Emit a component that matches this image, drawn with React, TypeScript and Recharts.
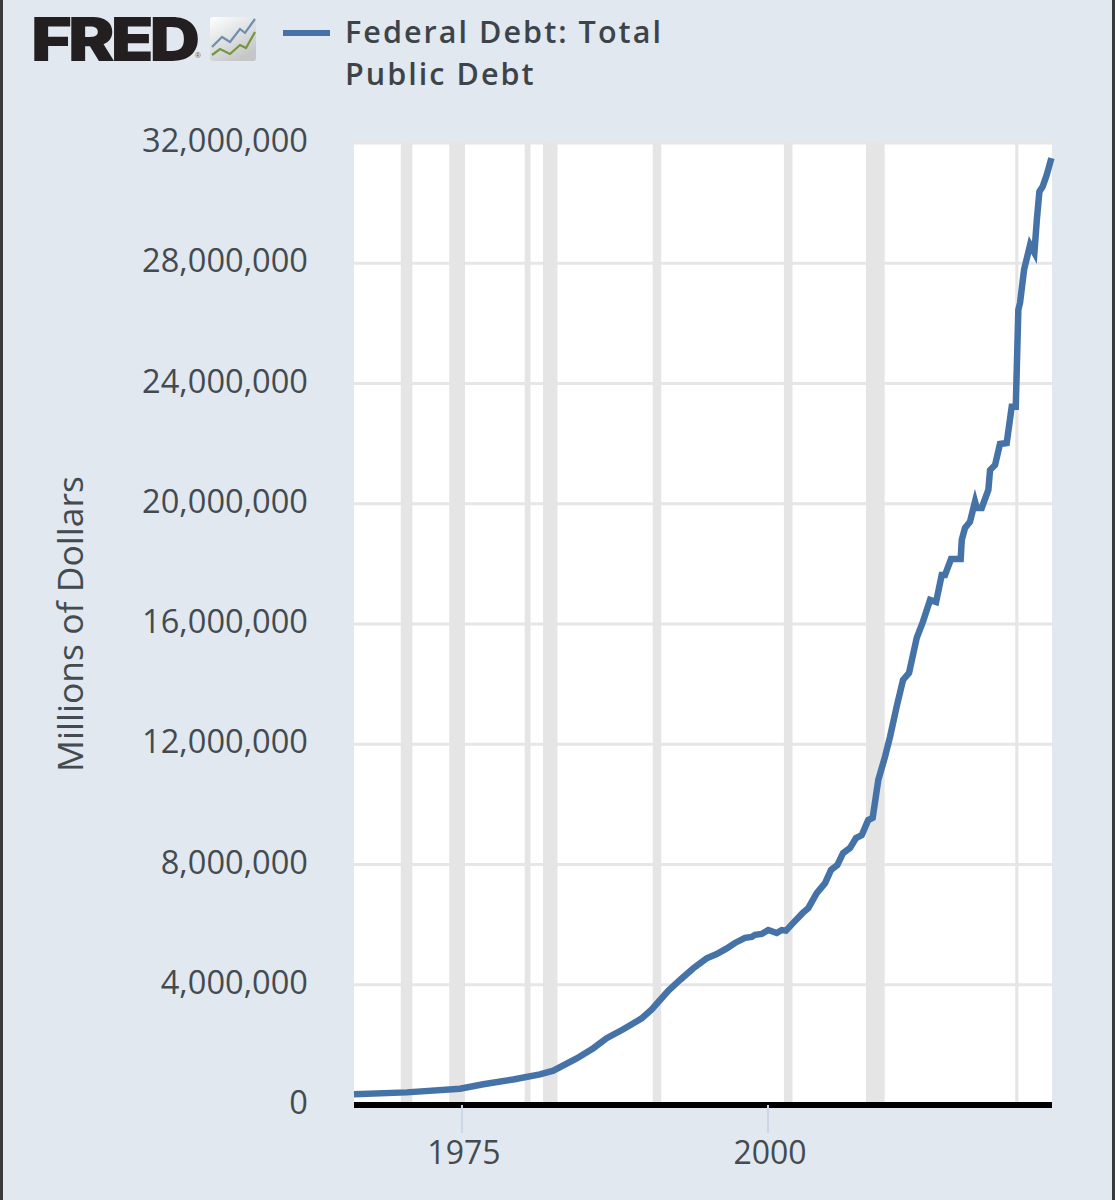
import React from "react";
import { LineChart, Line, XAxis, YAxis, CartesianGrid, ReferenceArea } from "recharts";

const seriesName = "Federal Debt: Total Public Debt";
const legendLines = ["Federal Debt: Total", "Public Debt"];
const yAxisTitle = "Millions of Dollars";
const yTicks = [0, 4000000, 8000000, 12000000, 16000000, 20000000, 24000000, 28000000, 32000000];
const xTicks = [1975, 2000];

const years = [
  1966.18, 1970.48, 1974.84, 1976.74, 1979.19, 1981.37, 1982.46, 1984.37, 1985.73, 1986.82,
  1988.18, 1989.68, 1990.5, 1991.85, 1992.81, 1993.9, 1994.99, 1995.81, 1996.63, 1997.3,
  1998.12, 1998.67, 1998.94, 1999.49, 2000.02, 2000.71, 2001.12, 2001.47, 2002.04, 2002.84,
  2003.29, 2003.98, 2004.66, 2005.15, 2005.66, 2006.13, 2006.7, 2007.19, 2007.66, 2008.19,
  2008.55, 2009.01, 2009.56, 2009.97, 2010.51, 2011.03, 2011.52, 2012.15, 2012.66, 2013.24,
  2013.73, 2014.19, 2014.46, 2014.95, 2015.74, 2015.83, 2016.09, 2016.5, 2016.91, 2017.05,
  2017.46, 2018.0, 2018.14, 2018.55, 2018.95, 2019.5, 2019.91, 2020.24, 2020.45, 2020.59,
  2020.92, 2021.41, 2021.76, 2021.96, 2022.17, 2022.44, 2022.77, 2023.15,
];
const debtMillions = [
  0.36, 0.42, 0.54, 0.69, 0.85, 1.02, 1.14, 1.55, 1.89, 2.22,
  2.52, 2.88, 3.18, 3.8, 4.16, 4.55, 4.88, 5.02, 5.21, 5.39,
  5.56, 5.59, 5.66, 5.69, 5.82, 5.72, 5.82, 5.8, 6.05, 6.39,
  6.55, 7.05, 7.38, 7.82, 7.98, 8.38, 8.55, 8.88, 8.98, 9.48,
  9.55, 10.81, 11.59, 12.25, 13.25, 14.14, 14.37, 15.54, 16.08, 16.8,
  16.73, 17.63, 17.63, 18.16, 18.16, 18.8, 19.19, 19.4, 20.07, 19.86,
  19.86, 20.46, 21.12, 21.29, 21.99, 22.02, 23.23, 23.23, 26.45, 26.69,
  27.79, 28.61, 28.35, 29.44, 30.38, 30.55, 30.94, 31.5,
];
const recessionStarts = [1970.0, 1973.96, 1980.12, 1981.62, 1990.58, 2001.3, 2008.0, 2020.2];
const recessionEnds = [1970.95, 1975.25, 1980.6, 1982.8, 1991.28, 2002.0, 2009.53, 2020.45];

const data = years.map((year, i) => ({ year, debt: debtMillions[i] * 1000000 }));
const fmt = (v: number) => v.toLocaleString("en-US");
const bg = "#e1e8ef";
const font = "'Open Sans', 'Noto Sans', sans-serif";
const textColor = "#444b50";

export default function App() {
  return (
    <div style={{ position: "absolute", left: 0, top: 0, width: 1115, height: 1200, background: bg, overflow: "hidden" }}>
      <div style={{ position: "absolute", left: 0, top: 0, width: 3, height: 1200, background: "#3a3a3c" }} />
      <div style={{ position: "absolute", left: 1112, top: 0, width: 3, height: 1200, background: "#3a3a3c" }} />
      <div style={{ position: "absolute", left: 31, top: 5, fontFamily: "Inter, 'Liberation Sans', sans-serif", fontWeight: 900, fontSize: 60, lineHeight: "68px", letterSpacing: -3.5, color: "#231f20", transform: "scaleX(1.17)", transformOrigin: "left center" }}>FRED</div>
      <div style={{ position: "absolute", left: 195, top: 51, fontFamily: "'Liberation Sans', sans-serif", fontSize: 8, color: "#555" }}>®</div>
      <svg style={{ position: "absolute", left: 210, top: 17 }} width={46} height={44}>
        <defs>
          <linearGradient id="logoBg" x1="0" y1="0" x2="0.6" y2="1">
            <stop offset="0" stopColor="#ffffff" />
            <stop offset="1" stopColor="#c4c6c8" />
          </linearGradient>
        </defs>
        <rect width={46} height={44} rx={3} fill="url(#logoBg)" />
        <polyline points="2,30 12,20 20,25 30,12 35,16 45,2" fill="none" stroke="#6f8fb2" strokeWidth={2.2} />
        <polyline points="2,38 10,32 20,37 30,28 36,31 45,15" fill="none" stroke="#75963f" strokeWidth={2.2} />
      </svg>
      <div style={{ position: "absolute", left: 283, top: 30, width: 47, height: 6, background: "#4572a7" }} />
      <div aria-label={seriesName} style={{ position: "absolute", left: 345, top: 10, fontFamily: font, fontWeight: 600, fontSize: 30.5, lineHeight: "42px", letterSpacing: 2.05, color: "#3d4449", whiteSpace: "nowrap" }}>
        {legendLines.map((l) => (
          <div key={l}>{l}</div>
        ))}
      </div>
      <LineChart width={1115} height={1200} data={data} margin={{ top: 143, right: 63, bottom: 0, left: 0 }} style={{ position: "absolute", left: 0, top: 0 }}>
        <CartesianGrid vertical={false} stroke="#e6e6e6" strokeWidth={3} fill="#ffffff" fillOpacity={1} syncWithTicks />
        {recessionStarts.map((s, i) => (
          <ReferenceArea key={s} x1={s} x2={recessionEnds[i]} fill="#e5e5e5" fillOpacity={1} stroke="none" />
        ))}
        <XAxis
          dataKey="year"
          type="number"
          domain={[1966.18, 2023.2]}
          ticks={xTicks}
          height={95}
          axisLine={{ stroke: "#000000", strokeWidth: 6 }}
          tickLine={{ stroke: "#ccd6e6", strokeWidth: 2 }}
          tickSize={28}
          tickMargin={8}
          tick={{ fill: textColor, fontSize: 32, fontFamily: font, dx: 2 }}
        />
        <YAxis
          type="number"
          domain={[0, 32000000]}
          ticks={yTicks}
          width={354}
          axisLine={false}
          tickLine={false}
          tickSize={0}
          tickMargin={46}
          tickFormatter={fmt}
          interval={0}
          tick={{ fill: textColor, fontSize: 32.6, fontFamily: font, dy: -2.5 }}
          label={{ value: yAxisTitle, angle: -90, position: "insideLeft", offset: 70, style: { fill: textColor, fontSize: 35.5, fontFamily: font, textAnchor: "middle" } }}
        />
        <Line dataKey="debt" name={seriesName} type="linear" stroke="#4572a7" strokeWidth={6.5} dot={false} activeDot={false} isAnimationActive={false} />
      </LineChart>
    </div>
  );
}
